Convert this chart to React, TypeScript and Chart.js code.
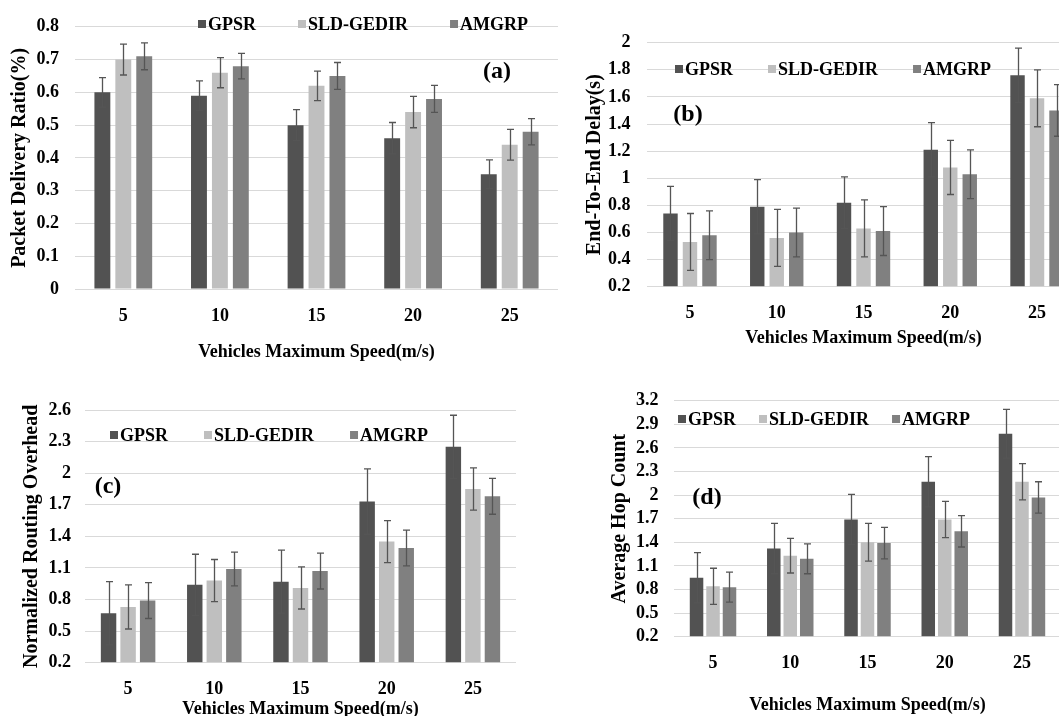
import React, { useEffect, useRef } from "react";
import { Chart, registerables } from "chart.js";

Chart.register(...registerables);

// ---------- data ----------
const speeds = ["5", "10", "15", "20", "25"];
const seriesNames = ["GPSR", "SLD-GEDIR", "AMGRP"];
const seriesColors = ["#525252", "#bfbfbf", "#808080"];
const xTitle = "Vehicles Maximum Speed(m/s)";

// (a) Packet Delivery Ratio
const pdrGPSR = [0.6, 0.59, 0.5, 0.46, 0.35];
const pdrSLD = [0.7, 0.66, 0.62, 0.54, 0.44];
const pdrAMGRP = [0.71, 0.68, 0.65, 0.58, 0.48];
const pdrErrGPSR = [0.045, 0.045, 0.047, 0.048, 0.044];
const pdrErrSLD = [0.047, 0.046, 0.045, 0.048, 0.047];
const pdrErrAMGRP = [0.041, 0.039, 0.041, 0.041, 0.04];
const pdrTicks = [0, 0.1, 0.2, 0.3, 0.4, 0.5, 0.6, 0.7, 0.8];

// (b) End-to-End Delay
const delayGPSR = [0.74, 0.79, 0.82, 1.21, 1.76];
const delaySLD = [0.53, 0.56, 0.63, 1.08, 1.59];
const delayAMGRP = [0.58, 0.6, 0.61, 1.03, 1.5];
const delayErrGPSR = [0.2, 0.2, 0.19, 0.2, 0.2];
const delayErrSLD = [0.21, 0.21, 0.21, 0.2, 0.21];
const delayErrAMGRP = [0.18, 0.18, 0.18, 0.18, 0.19];
const delayTicks = [0.2, 0.4, 0.6, 0.8, 1, 1.2, 1.4, 1.6, 1.8, 2];

// (c) Normalized Routing Overhead
const nroGPSR = [0.67, 0.94, 0.97, 1.73, 2.25];
const nroSLD = [0.73, 0.98, 0.91, 1.35, 1.85];
const nroAMGRP = [0.79, 1.09, 1.07, 1.29, 1.78];
const nroErrGPSR = [0.3, 0.29, 0.3, 0.31, 0.3];
const nroErrSLD = [0.21, 0.2, 0.2, 0.2, 0.2];
const nroErrAMGRP = [0.17, 0.16, 0.17, 0.17, 0.17];
const nroTicks = [0.2, 0.5, 0.8, 1.1, 1.4, 1.7, 2, 2.3, 2.6];

// (d) Average Hop Count
const hopGPSR = [0.95, 1.32, 1.69, 2.17, 2.78];
const hopSLD = [0.84, 1.23, 1.4, 1.69, 2.17];
const hopAMGRP = [0.83, 1.19, 1.39, 1.54, 1.97];
const hopErrGPSR = [0.32, 0.32, 0.32, 0.32, 0.31];
const hopErrSLD = [0.23, 0.22, 0.24, 0.23, 0.23];
const hopErrAMGRP = [0.19, 0.19, 0.2, 0.2, 0.2];
const hopTicks = [0.2, 0.5, 0.8, 1.1, 1.4, 1.7, 2, 2.3, 2.6, 2.9, 3.2];

// ---------- layout / styling ----------
const FONT = '"Liberation Serif", "Times New Roman", serif';

type Panel = {
  key: string;
  tag: string;
  yTitle: string;
  values: number[][];
  errors: number[][];
  ticks: number[];
  min: number;
  max: number;
  left: number;
  top: number;
  width: number;
  height: number;
  yWidth: number;
  xHeight: number;
  padTop: number;
  padRight: number;
  yTitlePad: number;
  yTickPad: number;
  xTickPad: number;
  xTitlePad: number;
  catPct: number;
  barPct: number;
  legendX: number;
  legendY: number;
  legendGap: number;
  tagX: number;
  tagY: number;
};

const panels: Panel[] = [
  {
    key: "a", tag: "(a)", yTitle: "Packet Delivery Ratio(%)",
    values: [pdrGPSR, pdrSLD, pdrAMGRP], errors: [pdrErrGPSR, pdrErrSLD, pdrErrAMGRP],
    ticks: pdrTicks, min: 0, max: 0.8,
    left: 0, top: 0, width: 560, height: 372,
    yWidth: 75, xHeight: 83, padTop: 18, padRight: 2,
    yTitlePad: 8, yTickPad: 16, xTickPad: 17, xTitlePad: 9,
    catPct: 0.65, barPct: 0.76,
    legendX: 198, legendY: 24, legendGap: 42, tagX: 497, tagY: 72,
  },
  {
    key: "b", tag: "(b)", yTitle: "End-To-End Delay(s)",
    values: [delayGPSR, delaySLD, delayAMGRP], errors: [delayErrGPSR, delayErrSLD, delayErrAMGRP],
    ticks: delayTicks, min: 0.2, max: 2,
    left: 545, top: 0, width: 540, height: 372,
    yWidth: 101.6, xHeight: 85.3, padTop: 42.7, padRight: 4.6,
    yTitlePad: 38, yTickPad: 16, xTickPad: 16, xTitlePad: 23,
    catPct: 0.674, barPct: 0.74,
    legendX: 130, legendY: 69, legendGap: 35, tagX: 143, tagY: 115,
  },
  {
    key: "c", tag: "(c)", yTitle: "Normalized Routing Overhead",
    values: [nroGPSR, nroSLD, nroAMGRP], errors: [nroErrGPSR, nroErrSLD, nroErrAMGRP],
    ticks: nroTicks, min: 0.2, max: 2.6,
    left: 0, top: 372, width: 540, height: 360,
    yWidth: 85, xHeight: 69.3, padTop: 38, padRight: 24,
    yTitlePad: 20, yTickPad: 14, xTickPad: 16, xTitlePad: 12,
    catPct: 0.68, barPct: 0.79,
    legendX: 110, legendY: 63, legendGap: 36, tagX: 108, tagY: 115,
  },
  {
    key: "d", tag: "(d)", yTitle: "Average Hop Count",
    values: [hopGPSR, hopSLD, hopAMGRP], errors: [hopErrGPSR, hopErrSLD, hopErrAMGRP],
    ticks: hopTicks, min: 0.2, max: 3.2,
    left: 545, top: 372, width: 540, height: 360,
    yWidth: 129.4, xHeight: 95.3, padTop: 28.7, padRight: 24.4,
    yTitlePad: 63, yTickPad: 16, xTickPad: 16, xTitlePad: 16.2,
    catPct: 0.64, barPct: 0.82,
    legendX: 133, legendY: 47, legendGap: 23, tagX: 162, tagY: 126,
  },
];

// ---------- plugins ----------
const errorBarPlugin = {
  id: "errorBars",
  afterDatasetsDraw(chart: any, _args: any, opts: any) {
    const errs: number[][] = opts.errors || [];
    const ctx = chart.ctx;
    const yScale = chart.scales.y;
    ctx.save();
    ctx.strokeStyle = "#555555";
    ctx.lineWidth = 1.3;
    chart.data.datasets.forEach((ds: any, di: number) => {
      const meta = chart.getDatasetMeta(di);
      meta.data.forEach((bar: any, i: number) => {
        const v = ds.data[i];
        const e = (errs[di] || [])[i] || 0;
        const x = Math.round(bar.x) + 0.5;
        const yT = yScale.getPixelForValue(v + e);
        const yB = yScale.getPixelForValue(v - e);
        ctx.beginPath();
        ctx.moveTo(x, yT);
        ctx.lineTo(x, yB);
        ctx.moveTo(x - 3.5, yT);
        ctx.lineTo(x + 3.5, yT);
        ctx.moveTo(x - 3.5, yB);
        ctx.lineTo(x + 3.5, yB);
        ctx.stroke();
      });
    });
    ctx.restore();
  },
};

const decoPlugin = {
  id: "deco",
  afterDraw(chart: any, _args: any, opts: any) {
    const ctx = chart.ctx;
    ctx.save();
    ctx.font = `bold 18px ${FONT}`;
    ctx.textBaseline = "middle";
    ctx.textAlign = "left";
    let x = opts.legendX;
    const y = opts.legendY;
    chart.data.datasets.forEach((ds: any) => {
      ctx.fillStyle = ds.backgroundColor;
      ctx.fillRect(x, y - 4, 8, 8);
      x += 10;
      ctx.fillStyle = "#000";
      ctx.fillText(ds.label, x, y + 1);
      x += ctx.measureText(ds.label).width + opts.legendGap;
    });
    ctx.font = `bold 24px ${FONT}`;
    ctx.textAlign = "center";
    ctx.fillStyle = "#000";
    ctx.fillText(opts.tag, opts.tagX, opts.tagY);
    ctx.restore();
  },
};

function PanelChart({ p }: { p: Panel }) {
  const ref = useRef<HTMLCanvasElement>(null);
  useEffect(() => {
    const canvas = ref.current!;
    const chart = new Chart(canvas, {
      type: "bar",
      data: {
        labels: speeds,
        datasets: seriesNames.map((name, i) => ({
          label: name,
          data: p.values[i],
          backgroundColor: seriesColors[i],
          borderWidth: 0,
          base: p.min,
          categoryPercentage: p.catPct,
          barPercentage: p.barPct,
        })),
      },
      options: {
        animation: false,
        responsive: false,
        devicePixelRatio: 1,
        layout: { padding: { left: 0, right: p.padRight, top: p.padTop, bottom: 0 } },
        plugins: {
          legend: { display: false },
          tooltip: { enabled: false },
          errorBars: { errors: p.errors },
          deco: {
            legendX: p.legendX, legendY: p.legendY, legendGap: p.legendGap,
            tag: p.tag, tagX: p.tagX, tagY: p.tagY,
          },
        } as any,
        scales: {
          x: {
            grid: { display: false, drawTicks: false },
            border: { display: false },
            ticks: { color: "#000", font: { family: FONT, size: 18, weight: "bold" }, padding: p.xTickPad, autoSkip: false, maxRotation: 0 },
            title: {
              display: true, text: xTitle, color: "#000",
              font: { family: FONT, size: 18, weight: "bold" },
              padding: { top: 0, bottom: p.xTitlePad },
            },
            afterFit: (s: any) => { s.height = p.xHeight; },
          },
          y: {
            min: p.min,
            max: p.max,
            grid: { color: "#d9d9d9", lineWidth: 1, drawTicks: false },
            border: { display: false },
            ticks: {
              color: "#000",
              font: { family: FONT, size: 18, weight: "bold" },
              padding: p.yTickPad,
              autoSkip: false,
              callback: (v: any) => String(v),
            },
            afterBuildTicks: (s: any) => { s.ticks = p.ticks.map((v) => ({ value: v })); },
            title: {
              display: true, text: p.yTitle, color: "#000",
              font: { family: FONT, size: 20, weight: "bold" },
              padding: { top: p.yTitlePad, bottom: 0 },
            },
            afterFit: (s: any) => { s.width = p.yWidth; },
          },
        },
      } as any,
      plugins: [errorBarPlugin, decoPlugin],
    });
    return () => chart.destroy();
  }, []);
  return (
    <canvas
      ref={ref}
      width={p.width}
      height={p.height}
      style={{ position: "absolute", left: p.left, top: p.top, width: p.width, height: p.height }}
    />
  );
}

export default function App() {
  return (
    <div
      style={{
        position: "fixed", left: 0, top: 0, width: 1059, height: 716,
        overflow: "hidden", background: "#fff",
      }}
    >
      {panels.map((p) => (
        <PanelChart key={p.key} p={p} />
      ))}
    </div>
  );
}
